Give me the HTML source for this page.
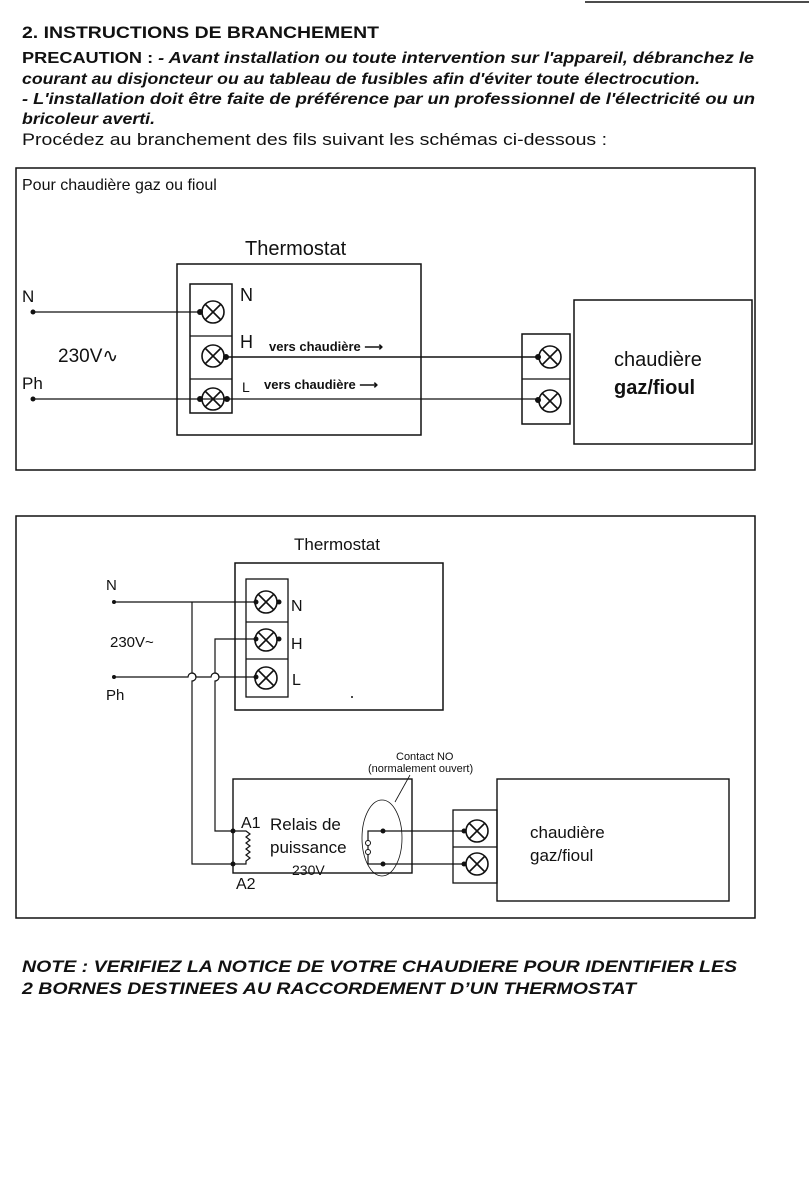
<!DOCTYPE html>
<html><head><meta charset="utf-8"><style>
html,body{margin:0;padding:0;background:#fff;}
svg{display:block;}
text{font-family:"Liberation Sans",sans-serif;fill:#111;}
</style></head><body>
<svg width="809" height="1196" viewBox="0 0 809 1196" xmlns="http://www.w3.org/2000/svg">
<defs>
<g id="term">
<circle cx="0" cy="0" r="11" fill="none" stroke="#111" stroke-width="1.6"/>
<line x1="-7.5" y1="-7.5" x2="7.5" y2="7.5" stroke="#111" stroke-width="1.6"/>
<line x1="7.5" y1="-7.5" x2="-7.5" y2="7.5" stroke="#111" stroke-width="1.6"/>
</g>
</defs>
<line x1="585" y1="2" x2="809" y2="2" stroke="#111" stroke-width="1.5"/>
<text x="22" y="38" font-size="17" font-weight="bold" textLength="357" lengthAdjust="spacingAndGlyphs">2. INSTRUCTIONS DE BRANCHEMENT</text>
<text x="22" y="63" font-size="16" font-weight="bold" textLength="732" lengthAdjust="spacingAndGlyphs">PRECAUTION : <tspan font-style="italic">- Avant installation ou toute intervention sur l'appareil,  débranchez le</tspan></text>
<text x="22" y="84" font-size="16" font-weight="bold" font-style="italic" textLength="678" lengthAdjust="spacingAndGlyphs">courant au disjoncteur ou au tableau de fusibles afin d'éviter toute électrocution.</text>
<text x="22" y="104" font-size="16" font-weight="bold" font-style="italic" textLength="733" lengthAdjust="spacingAndGlyphs">- L'installation doit être faite de préférence par un professionnel de l'électricité ou un</text>
<text x="22" y="124" font-size="16" font-weight="bold" font-style="italic" textLength="133" lengthAdjust="spacingAndGlyphs">bricoleur averti.</text>
<text x="22" y="145" font-size="17" textLength="585" lengthAdjust="spacingAndGlyphs">Procédez au branchement des fils suivant les schémas ci-dessous :</text>

<!-- Box 1 -->
<rect x="16" y="168" width="739" height="302" fill="none" stroke="#111" stroke-width="1.5"/>
<text x="22" y="190" font-size="16">Pour chaudière gaz ou fioul</text>
<text x="245" y="255" font-size="20">Thermostat</text>
<rect x="177" y="264" width="244" height="171" fill="none" stroke="#111" stroke-width="1.5"/>
<rect x="190" y="284" width="42" height="129" fill="none" stroke="#111" stroke-width="1.5"/>
<line x1="190" y1="336" x2="232" y2="336" stroke="#111" stroke-width="1.2"/>
<line x1="190" y1="379" x2="232" y2="379" stroke="#111" stroke-width="1.2"/>
<use href="#term" x="213" y="312"/>
<use href="#term" x="213" y="356"/>
<use href="#term" x="213" y="399"/>
<text x="240" y="301" font-size="18">N</text>
<text x="240" y="348" font-size="18">H</text>
<text x="242" y="392" font-size="14">L</text>
<text x="269" y="351" font-size="13" font-weight="bold">vers chaudière  ⟶</text>
<text x="264" y="389" font-size="13" font-weight="bold">vers chaudière  ⟶</text>
<text x="22" y="302" font-size="17">N</text>
<text x="22" y="389" font-size="17">Ph</text>
<text x="58" y="362" font-size="19">230V∿</text>
<line x1="33" y1="312" x2="200" y2="312" stroke="#111" stroke-width="1.2"/>
<circle cx="33" cy="312" r="2.5" fill="#111"/>
<circle cx="200" cy="312" r="3" fill="#111"/>
<line x1="33" y1="399" x2="540" y2="399" stroke="#111" stroke-width="1.2"/>
<circle cx="33" cy="399" r="2.5" fill="#111"/>
<circle cx="200" cy="399" r="3" fill="#111"/>
<circle cx="227" cy="399" r="3" fill="#111"/>
<line x1="227" y1="357" x2="540" y2="357" stroke="#111" stroke-width="1.4"/>
<circle cx="226" cy="357" r="3" fill="#111"/>
<rect x="522" y="334" width="48" height="90" fill="none" stroke="#111" stroke-width="1.5"/>
<line x1="522" y1="379" x2="570" y2="379" stroke="#111" stroke-width="1.2"/>
<use href="#term" x="550" y="357"/>
<use href="#term" x="550" y="401"/>
<circle cx="538" cy="357" r="3" fill="#111"/>
<circle cx="538" cy="400" r="3" fill="#111"/>
<rect x="574" y="300" width="178" height="144" fill="none" stroke="#111" stroke-width="1.5"/>
<text x="614" y="366" font-size="20">chaudière</text>
<text x="614" y="394" font-size="20" font-weight="bold">gaz/fioul</text>

<!-- Box 2 -->
<rect x="16" y="516" width="739" height="402" fill="none" stroke="#111" stroke-width="1.5"/>
<text x="294" y="550" font-size="17">Thermostat</text>
<rect x="235" y="563" width="208" height="147" fill="none" stroke="#111" stroke-width="1.5"/>
<rect x="246" y="579" width="42" height="118" fill="none" stroke="#111" stroke-width="1.3"/>
<line x1="246" y1="622" x2="288" y2="622" stroke="#111" stroke-width="1.2"/>
<line x1="246" y1="659" x2="288" y2="659" stroke="#111" stroke-width="1.2"/>
<use href="#term" x="266" y="602"/>
<use href="#term" x="266" y="640"/>
<use href="#term" x="266" y="678"/>
<circle cx="256" cy="602" r="2.5" fill="#111"/><circle cx="279" cy="602" r="2.5" fill="#111"/>
<circle cx="256" cy="639" r="2.5" fill="#111"/><circle cx="279" cy="639" r="2.5" fill="#111"/>
<circle cx="256" cy="677" r="2.5" fill="#111"/>
<text x="291" y="611" font-size="16">N</text>
<text x="291" y="649" font-size="16">H</text>
<text x="292" y="685" font-size="16">L</text>
<circle cx="352" cy="697" r="1" fill="#111"/>
<text x="106" y="590" font-size="15">N</text>
<text x="110" y="647" font-size="15">230V~</text>
<text x="106" y="700" font-size="15">Ph</text>
<circle cx="114" cy="602" r="2" fill="#111"/>
<circle cx="114" cy="677" r="2" fill="#111"/>
<g fill="none" stroke="#111" stroke-width="1.2">
<path d="M114 602 H256"/>
<path d="M192 602 V673 a4 4 0 0 1 0 8 V864 H233"/>
<path d="M256 639 H215 V673 a4 4 0 0 1 0 8 V831 H233"/>
<path d="M114 677 H188 a4 4 0 0 1 8 0 H211 a4 4 0 0 1 8 0 H256"/>
<rect x="233" y="779" width="179" height="94" stroke-width="1.4"/>
<path d="M233 831 H246 l4 3 -4 3 4 3 -4 3 4 3 -4 3 4 3 -4 3 4 3 -4 3 V864 H233"/>
<ellipse cx="382" cy="838" rx="20" ry="38" stroke-width="0.8"/>
<path d="M395 802 L410 775" stroke-width="0.8"/>
<path d="M383 831 H464 M383 864 H464"/>
<path d="M383 831 H368 V864 H383"/>
<rect x="453" y="810" width="44" height="73" stroke-width="1.3"/>
<line x1="453" y1="847" x2="497" y2="847"/>
<rect x="497" y="779" width="232" height="122" stroke-width="1.4"/>
</g>
<circle cx="368" cy="843" r="2.5" fill="#fff" stroke="#111"/>
<circle cx="368" cy="852" r="2.5" fill="#fff" stroke="#111"/>
<circle cx="233" cy="831" r="2.5" fill="#111"/><circle cx="233" cy="864" r="2.5" fill="#111"/>
<circle cx="383" cy="831" r="2.5" fill="#111"/><circle cx="383" cy="864" r="2.5" fill="#111"/>
<circle cx="464" cy="831" r="2.5" fill="#111"/><circle cx="464" cy="864" r="2.5" fill="#111"/>
<use href="#term" x="477" y="831"/>
<use href="#term" x="477" y="864"/>
<text x="241" y="828" font-size="16">A1</text>
<text x="236" y="889" font-size="16">A2</text>
<text x="270" y="830" font-size="17">Relais de</text>
<text x="270" y="853" font-size="17">puissance</text>
<text x="292" y="875" font-size="14">230V</text>
<text x="396" y="760" font-size="11">Contact NO</text>
<text x="368" y="772" font-size="11">(normalement ouvert)</text>
<text x="530" y="838" font-size="17">chaudière</text>
<text x="530" y="861" font-size="17">gaz/fioul</text>

<text x="22" y="972" font-size="17" font-weight="bold" font-style="italic" textLength="715" lengthAdjust="spacingAndGlyphs">NOTE : VERIFIEZ LA NOTICE DE VOTRE CHAUDIERE POUR IDENTIFIER LES</text>
<text x="22" y="994" font-size="17" font-weight="bold" font-style="italic" textLength="614" lengthAdjust="spacingAndGlyphs">2 BORNES DESTINEES AU RACCORDEMENT D’UN THERMOSTAT</text>
</svg>
</body></html>
